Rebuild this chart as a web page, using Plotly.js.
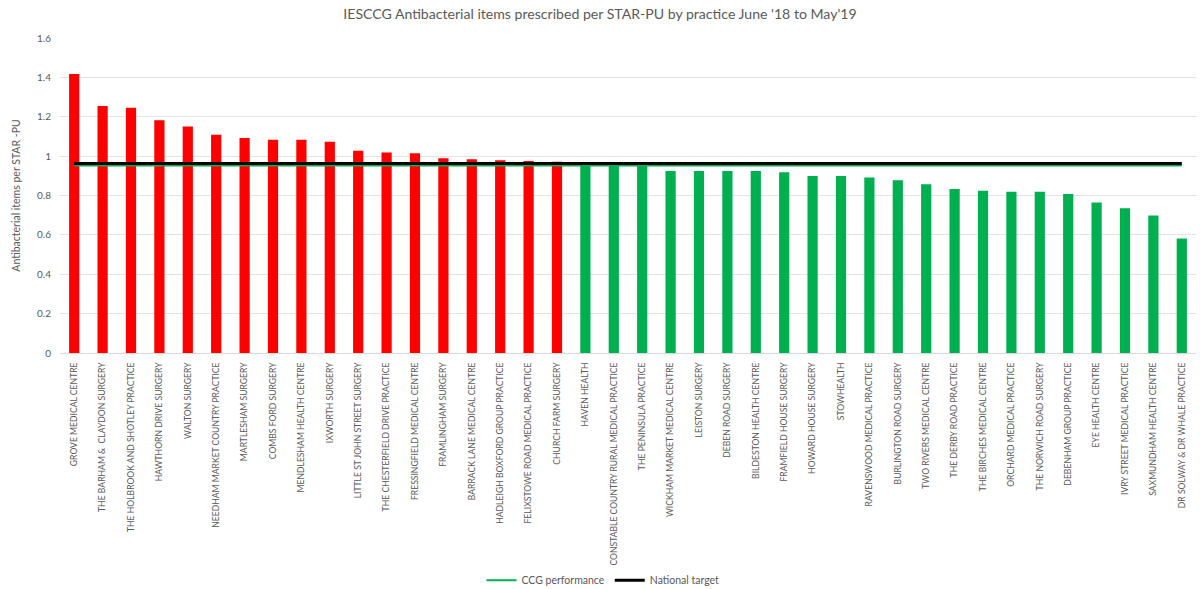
<!DOCTYPE html>
<html>
<head>
<meta charset="utf-8">
<script src="https://cdn.plot.ly/plotly-3.0.1.min.js"></script>
<style>html,body{margin:0;padding:0;background:#fff;}#chart{width:1200px;height:589px;}</style>
</head>
<body>
<div id="chart"></div>
<script>
const practices = [
  "GROVE MEDICAL CENTRE","THE BARHAM &  CLAYDON SURGERY","THE HOLBROOK AND SHOTLEY PRACTICE","HAWTHORN DRIVE SURGERY",
  "WALTON SURGERY","NEEDHAM MARKET COUNTRY PRACTICE","MARTLESHAM SURGERY","COMBS FORD SURGERY",
  "MENDLESHAM HEALTH CENTRE","IXWORTH SURGERY","LITTLE ST JOHN STREET SURGERY","THE CHESTERFIELD DRIVE PRACTICE",
  "FRESSINGFIELD MEDICAL CENTRE","FRAMLINGHAM SURGERY","BARRACK LANE MEDICAL CENTRE","HADLEIGH BOXFORD GROUP PRACTICE",
  "FELIXSTOWE ROAD MEDICAL PRACTICE","CHURCH FARM SURGERY","HAVEN HEALTH","CONSTABLE COUNTRY RURAL MEDICAL PRACTICE",
  "THE PENINSULA PRACTICE","WICKHAM MARKET MEDICAL CENTRE","LEISTON SURGERY","DEBEN ROAD SURGERY",
  "BILDESTON HEALTH CENTRE","FRAMFIELD HOUSE SURGERY","HOWARD HOUSE SURGERY","STOWHEALTH",
  "RAVENSWOOD MEDICAL PRACTICE","BURLINGTON ROAD SURGERY","TWO RIVERS MEDICAL CENTRE","THE DERBY ROAD PRACTICE",
  "THE BIRCHES MEDICAL CENTRE","ORCHARD MEDICAL PRACTICE","THE NORWICH ROAD SURGERY","DEBENHAM GROUP PRACTICE",
  "EYE HEALTH CENTRE","IVRY STREET MEDICAL PRACTICE","SAXMUNDHAM HEALTH CENTRE","DR SOLWAY & DR WHALE PRACTICE"
];
const itemsPerStarPU = [
  1.417, 1.254, 1.246, 1.182, 1.151, 1.109, 1.092, 1.083,
  1.083, 1.073, 1.027, 1.019, 1.014, 0.989, 0.984, 0.979,
  0.975, 0.972, 0.958, 0.956, 0.955, 0.924, 0.924, 0.924,
  0.924, 0.918, 0.899, 0.899, 0.892, 0.877, 0.857, 0.833,
  0.824, 0.819, 0.819, 0.808, 0.765, 0.735, 0.699, 0.582
];
const ccgPerformance = 0.953;
const nationalTarget = 0.962;
const yTicks = [0, 0.2, 0.4, 0.6, 0.8, 1, 1.2, 1.4, 1.6];

const barColors = itemsPerStarPU.map(v => v > nationalTarget ? "#FF0000" : "#00B050");

const traces = [
  {
    type: "bar", x: practices, y: itemsPerStarPU,
    marker: {color: barColors}, showlegend: false, hoverinfo: "x+y"
  },
  {
    type: "scatter", mode: "lines", name: "CCG performance",
    x: practices, y: practices.map(() => ccgPerformance),
    line: {color: "#00B050", width: 2}
  },
  {
    type: "scatter", mode: "lines", name: "National target",
    x: practices, y: practices.map(() => nationalTarget),
    line: {color: "#000000", width: 3}
  }
];

const FONT = "Lato, 'Open Sans', sans-serif";
const layout = {
  width: 1200, height: 589,
  margin: {l: 60, r: 4, t: 38, b: 236},
  paper_bgcolor: "#ffffff", plot_bgcolor: "#ffffff",
  font: {family: FONT, color: "#595959"},
  title: {
    text: "IESCCG Antibacterial items prescribed per STAR-PU by practice June '18 to May'19",
    font: {size: 14.1, color: "#595959", family: FONT},
    x: 0.5, xanchor: "center", y: 0.976, yanchor: "middle"
  },
  bargap: 0.64,
  showlegend: true,
  legend: {
    orientation: "h", x: 0.478, xanchor: "center",
    yref: "container", y: 0.015, yanchor: "middle",
    bgcolor: "rgba(0,0,0,0)",
    font: {size: 10.5, color: "#595959", family: FONT}, itemwidth: 30, tracegroupgap: 0
  },
  xaxis: {
    type: "category", tickangle: -90,
    tickfont: {size: 8.6, color: "#595959", family: FONT},
    showgrid: false, showline: true, linecolor: "#d9d9d9", linewidth: 1,
    ticks: "outside", ticklen: 5, tickcolor: "rgba(255,255,255,0)",
    automargin: false, range: [-0.5, 39.5]
  },
  yaxis: {
    range: [0, 1.6], tickvals: yTicks, ticktext: yTicks.map(String),
    tickfont: {size: 10, color: "#595959", family: FONT},
    ticklabelstandoff: 8,
    gridcolor: "#e3e3e3", gridwidth: 1, zeroline: false, showline: false,
    ticks: "", ticklen: 0, automargin: false,
    title: {text: "Antibacterial items per STAR -PU", font: {size: 10.5, color: "#595959", family: FONT}, standoff: 14}
  }
};

Plotly.newPlot("chart", traces, layout, {displayModeBar: false, staticPlot: true});
</script>
</body>
</html>
